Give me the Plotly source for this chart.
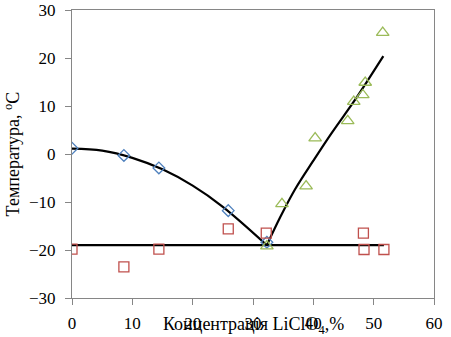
import plotly.graph_objects as go

# Experimental points: LiClO4 concentration (%) vs temperature (°C)
ice_x = [0, 8.6, 14.4, 25.9, 32.3]
ice_t = [1.2, -0.3, -2.9, -11.8, -18.4]

eut_x = [0, 8.6, 14.4, 25.9, 32.2, 48.3, 48.4, 51.7]
eut_t = [-19.8, -23.5, -19.8, -15.6, -16.5, -16.5, -19.9, -19.9]

salt_x = [32.3, 34.8, 38.8, 40.3, 45.7, 46.7, 48.2, 48.6, 51.5]
salt_t = [-19.2, -10.4, -6.7, 3.3, 6.9, 10.9, 12.3, 14.9, 25.3]

# Trend lines (ice liquidus, salt solubility curve, eutectic line)
ice_curve_x = [0, 5, 10, 15, 20, 25, 32.3]
ice_curve_t = [1.1, 0.7, -0.8, -3.2, -6.6, -11.0, -19.0]

salt_curve_x = [32.3, 34.5, 37.0, 40.0, 43.0, 46.7, 49.0, 51.6]
salt_curve_t = [-19.0, -13.2, -7.3, -1.4, 4.3, 10.9, 15.3, 20.4]

eut_line_x = [0, 51.7]
eut_line_t = [-19.0, -19.0]

x_ticks = [0, 10, 20, 30, 40, 50, 60]
y_ticks = [-30, -20, -10, 0, 10, 20, 30]

fig = go.Figure()

for lx, ly in [(ice_curve_x, ice_curve_t), (salt_curve_x, salt_curve_t), (eut_line_x, eut_line_t)]:
    fig.add_trace(go.Scatter(x=lx, y=ly, mode="lines", line=dict(color="black", width=2.2, shape="spline"),
                             showlegend=False, hoverinfo="skip"))

fig.add_trace(go.Scatter(x=ice_x, y=ice_t, mode="markers",
                         marker=dict(symbol="diamond-open", size=9, color="#4F81BD", line=dict(width=1.3)),
                         showlegend=False))
fig.add_trace(go.Scatter(x=eut_x, y=eut_t, mode="markers",
                         marker=dict(symbol="square-open", size=10, color="#C0504D", line=dict(width=1.3)),
                         showlegend=False))
fig.add_trace(go.Scatter(x=salt_x, y=salt_t, mode="markers",
                         marker=dict(symbol="triangle-up-open", size=11, color="#9BBB59", line=dict(width=1.3)),
                         showlegend=False))

tick_font = dict(family="Liberation Serif", size=17, color="black")
title_font = dict(family="Liberation Serif", size=18, color="black")

fig.update_xaxes(range=[0, 60], tickvals=x_ticks, ticks="outside", ticklen=6, tickcolor="#868686",
                 showline=True, linecolor="#868686", linewidth=1, mirror=True, showgrid=False,
                 zeroline=False, tickfont=tick_font, ticklabelstandoff=4, automargin=False)
fig.update_yaxes(range=[-30, 30], tickvals=y_ticks, ticks="outside", ticklen=6, tickcolor="#868686",
                 showline=True, linecolor="#868686", linewidth=1, mirror=True, showgrid=False,
                 zeroline=False, tickfont=tick_font, ticklabelstandoff=6, automargin=False,
                 title=dict(text="Температура, <sup>o</sup>C", font=title_font, standoff=4))

fig.add_annotation(text="Концентрація LiClO<sub>4</sub>,%", xref="paper", yref="paper",
                   x=0.5, y=-0.05, xanchor="center", yanchor="top", showarrow=False, font=title_font)

fig.update_layout(width=451, height=337, margin=dict(l=72, r=17, t=10, b=39),
                  plot_bgcolor="white", paper_bgcolor="white")

fig.write_html("out.html")
